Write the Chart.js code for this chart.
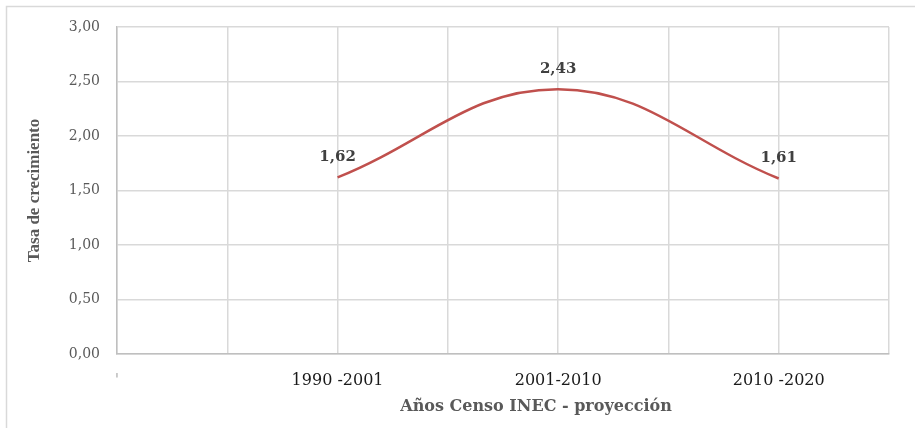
<!DOCTYPE html>
<html>
<head>
<meta charset="utf-8">
<script src="https://cdn.jsdelivr.net/npm/chart.js@4"></script>
<style>
  html, body { margin: 0; padding: 0; background: #ffffff; }
  #wrap { width: 915px; height: 428px; position: relative; }
</style>
</head>
<body>
<div id="wrap"><canvas id="c" width="915" height="428"></canvas></div>
<script>
// ---- data ----
const categories = ["'", "", "1990 -2001", "", "2001-2010", "", "2010 -2020", ""];
const tasaValues = [null, null, 1.62, null, 2.43, null, 1.61, null];
const yTicks = [0, 0.5, 1, 1.5, 2, 2.5, 3];
const yTitle = "Tasa de crecimiento";
const xTitle = "Años Censo INEC - proyección";

const fmt = v => v.toFixed(2).replace('.', ',');

const decor = {
  id: 'decor',
  beforeDraw(chart) {
    const ctx = chart.ctx;
    ctx.save();
    ctx.fillStyle = '#ffffff';
    ctx.fillRect(0, 0, chart.width, chart.height);
    ctx.strokeStyle = '#d9d9d9';
    ctx.lineWidth = 1.5;
    ctx.beginPath();
    ctx.moveTo(6.5, chart.height);
    ctx.lineTo(6.5, 6.5);
    ctx.lineTo(chart.width, 6.5);
    ctx.stroke();
    ctx.restore();
  },
  afterDatasetsDraw(chart) {
    const ctx = chart.ctx;
    const meta = chart.getDatasetMeta(0);
    ctx.save();
    ctx.font = 'bold 15px "DejaVu Serif"';
    ctx.fillStyle = '#404040';
    ctx.textAlign = 'center';
    ctx.textBaseline = 'middle';
    meta.data.forEach((pt, i) => {
      const v = tasaValues[i];
      if (v === null || v === undefined) return;
      ctx.fillText(fmt(v), pt.x, pt.y - 20);
    });
    // axis titles
    const ca = chart.chartArea;
    ctx.fillStyle = '#595959';
    ctx.font = 'bold 16px "DejaVu Serif"';
    ctx.fillText(xTitle, (ca.left + ca.right) / 2 + 33, 407);
    ctx.save();
    ctx.translate(35, (ca.top + ca.bottom) / 2);
    ctx.rotate(-Math.PI / 2);
    ctx.font = 'bold 17px "Liberation Serif"';
    ctx.fillText(yTitle, 0, 0);
    ctx.restore();
    ctx.restore();
  }
};

new Chart(document.getElementById('c'), {
  type: 'line',
  data: {
    labels: categories,
    datasets: [{
      data: tasaValues,
      borderColor: '#c0504d',
      borderWidth: 2.5,
      pointRadius: 0,
      pointHoverRadius: 0,
      tension: 0.4,
      spanGaps: true,
      fill: false
    }]
  },
  options: {
    responsive: false,
    animation: false,
    events: [],
    layout: { padding: { top: 27, right: 26, left: 0, bottom: 0 } },
    plugins: { legend: { display: false }, tooltip: { enabled: false } },
    scales: {
      x: {
        type: 'category',
        offset: false,
        afterFit(s) { s.height = 74; },
        grid: { color: '#d9d9d9', lineWidth: 1.5, drawTicks: false },
        border: { color: '#bfbfbf', width: 1.5 },
        ticks: {
          autoSkip: false, maxRotation: 0, minRotation: 0, padding: 17,
          font: { family: 'DejaVu Serif', size: 16 },
          color: c => (c.index === 0 ? '#b0b0b0' : '#1a1a1a')
        }
      },
      y: {
        min: 0, max: 3,
        afterFit(s) { s.width = 117; },
        afterBuildTicks(s) { s.ticks = yTicks.map(v => ({ value: v })); },
        grid: { color: '#d9d9d9', lineWidth: 1.5, drawTicks: false },
        border: { color: '#bfbfbf', width: 1.5 },
        ticks: {
          padding: 17,
          font: { family: 'DejaVu Serif', size: 14 },
          color: '#595959',
          callback: v => fmt(v)
        }
      }
    }
  },
  plugins: [decor]
});
</script>
</body>
</html>
